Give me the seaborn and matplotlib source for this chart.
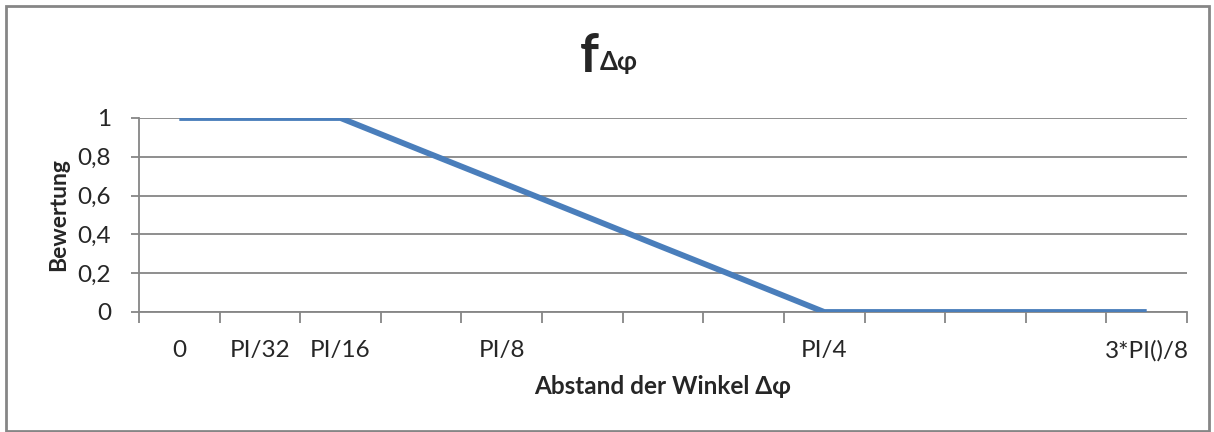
import matplotlib
matplotlib.use("Agg")
import matplotlib.pyplot as plt
from matplotlib.patches import Rectangle
import pandas as pd
import seaborn as sns

# categories: steps of PI/32, only some labelled (as in the sheet)
x_labels = ["0", "PI/32", "PI/16", "", "PI/8", "", "", "", "PI/4", "", "", "", "3*PI()/8"]
bewertung = [1, 1, 1, 0.833, 0.667, 0.5, 0.333, 0.167, 0, 0, 0, 0, 0]
y_ticks = [0, 0.2, 0.4, 0.6, 0.8, 1]
y_tick_labels = ["0", "0,2", "0,4", "0,6", "0,8", "1"]

GRID = "#868686"
LINE = "#4A7EBB"

sns.set_style("white")
plt.rcParams["font.family"] = ["Lato", "DejaVu Sans"]

df = pd.DataFrame({"pos": range(len(x_labels)), "wert": bewertung})

fig = plt.figure(figsize=(12.14, 4.32), dpi=100)
ax = fig.add_axes([139 / 1214, 1 - 312 / 432, (1187 - 139) / 1214, (312 - 118) / 432])

sns.lineplot(data=df, x="pos", y="wert", ax=ax, color=LINE, linewidth=4.2,
             solid_capstyle="butt", zorder=3)

ax.set_xlim(-0.5, len(x_labels) - 0.5)
ax.set_ylim(0, 1)

# y axis
ax.set_yticks(y_ticks)
ax.set_yticklabels(y_tick_labels)
ax.yaxis.grid(True, color=GRID, linewidth=1.3)
ax.tick_params(axis="y", direction="out", length=6, width=1.3, color=GRID,
               pad=14, labelsize=17.5, left=True)

# x axis: labels at category centres, ticks between categories
ax.set_xticks(range(len(x_labels)))
ax.set_xticklabels(x_labels)
ax.set_xticks([i - 0.5 for i in range(len(x_labels) + 1)], minor=True)
ax.tick_params(axis="x", which="major", length=0, pad=20, labelsize=17.5)
ax.tick_params(axis="x", which="minor", direction="out", length=8, width=1.3,
               color=GRID, bottom=True)

for side in ["top", "right"]:
    ax.spines[side].set_visible(False)
for side in ["left", "bottom"]:
    ax.spines[side].set_color(GRID)
    ax.spines[side].set_linewidth(1.3)

ax.set_xlabel("Abstand der Winkel Δφ", fontsize=17.5, fontweight="bold", labelpad=10)
ax.set_ylabel("Bewertung", fontsize=16.5, fontweight="bold", labelpad=6)

# title f with subscript Δφ
fig.text(599 / 1214, 1 - 72 / 432, "f", fontsize=38, fontweight="bold",
         ha="right", va="baseline")
fig.text(600 / 1214, 1 - 70 / 432, "Δφ", fontsize=18.5, fontweight="bold",
         ha="left", va="baseline")

# chart frame
fig.patches.append(Rectangle((6 / 1214, 1 / 432), 1203 / 1214, 425 / 432,
                             transform=fig.transFigure, fill=False,
                             edgecolor=GRID, linewidth=2))

fig.savefig("out.png", dpi=100)
